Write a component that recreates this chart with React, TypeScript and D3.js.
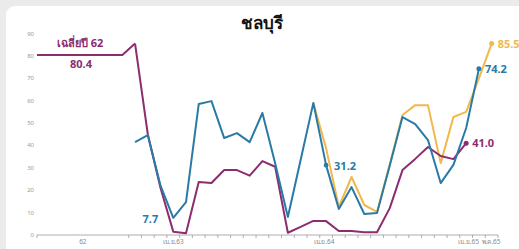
import * as React from 'react';
import * as d3 from 'd3';

// month slots: index 0 = เม.ย.63, -3 = ม.ค.63, 25 = พ.ค.65
const firstIndex = -3;
const avg62 = 80.4;
const avgEndIndex = -4;

// series values from ม.ค.63 onwards
const purpleValues = [
  85.5, 45, 21, 1.5, 0.8, 23.7, 23.2, 29, 29, 26.5, 33, 30.5, 1, 3.6, 6.3, 6.2,
  1.8, 1.8, 1.2, 1.2, 12, 29, 34, 39.3, 35.3, 33.9, 41.0,
];
const blueValues = [
  41.5, 44.6, 22, 7.7, 14.7, 58.5, 59.8, 43.3, 45.5, 41.5, 54.5, 32, 8, 33.5, 59,
  31.2, 11.6, 21.4, 9.4, 9.8, 31, 52.7, 49.5, 42.4, 23.2, 31.3, 47.8, 74.2,
];
// orange starts at มี.ค.64 (index 11)
const orangeStart = 11;
const orangeValues = [59, 38.8, 12.5, 25.9, 13.4, 10.3, 31.5, 53.6, 58, 58, 32.1, 52.7, 55, 70, 85.5];

const yTicks = [0, 10, 20, 30, 40, 50, 60, 70, 80, 90];
const xLabels: { i: number; text: string; anchor: string; dx: number }[] = [
  { i: -7.1, text: '62', anchor: 'middle', dx: 0 },
  { i: 0, text: 'เม.ย.63', anchor: 'middle', dx: 0 },
  { i: 12, text: 'เม.ย.64', anchor: 'middle', dx: -2 },
  { i: 24, text: 'เม.ย.65', anchor: 'end', dx: 0 },
  { i: 25, text: 'พ.ค.65', anchor: 'start', dx: -10 },
];

const PURPLE = '#8c2d6f';
const BLUE = '#2a7aa6';
const ORANGE = '#f2b84b';
const FONT = '"Noto Sans", "DejaVu Sans", sans-serif';

type Pt = { i: number; v: number };
const toPts = (vals: number[], start: number): Pt[] => vals.map((v, k) => ({ i: start + k, v }));

const App: React.FC = () => {
  const width = 519;
  const height = 249;

  const x = d3.scaleLinear().domain([-10.7, 25.5]).range([37, 498]);
  const y = d3.scaleLinear().domain([0, 90]).range([235, 33.5]);
  const line = d3.line<Pt>().x(d => x(d.i)).y(d => y(d.v));

  const purple = toPts(purpleValues, firstIndex);
  const blue = toPts(blueValues, firstIndex);
  const orange = toPts(orangeValues, orangeStart);
  const avgLine: Pt[] = [
    { i: x.domain()[0], v: avg62 },
    { i: avgEndIndex, v: avg62 },
    purple[0],
  ];

  const monthTicks = d3.range(avgEndIndex + 0.5, 26, 1);
  const lastP = purple[purple.length - 1];
  const lastB = blue[blue.length - 1];
  const lastO = orange[orange.length - 1];
  const mid = blue[15];

  return (
    <svg width={width} height={height} style={{ position: 'absolute', left: 0, top: 0 }} fontFamily={FONT}>
      <rect x={0} y={0} width={width} height={height} fill="#ebebeb" />
      <rect x={6} y={6} width={width + 20} height={height + 20} rx={9} fill="#ffffff" />

      <text x={262} y={29} textAnchor="middle" fontSize={17} fontWeight="bold" fill="#111">
        ชลบุรี
      </text>

      {yTicks.map(t => (
        <text key={t} x={34} y={y(t) + 2} textAnchor="end" fontSize={6} fill="#999">
          {t}
        </text>
      ))}

      <line x1={x.range()[0]} x2={x.range()[1]} y1={y(0)} y2={y(0)} stroke="#9a9a9a" strokeWidth={0.8} />
      {[x.domain()[0], ...monthTicks].map(t => (
        <line key={t} x1={x(t)} x2={x(t)} y1={y(0)} y2={y(0) + 3} stroke="#9a9a9a" strokeWidth={0.8} />
      ))}
      {xLabels.map(l => (
        <text key={l.text} x={x(l.i) + l.dx} y={244} textAnchor={l.anchor} fontSize={6.5} fill="#8a8a8a">
          {l.text}
        </text>
      ))}

      <path d={line(orange) || undefined} fill="none" stroke={ORANGE} strokeWidth={2} strokeLinejoin="round" />
      <path d={line(avgLine) || undefined} fill="none" stroke={PURPLE} strokeWidth={2} strokeLinejoin="round" />
      <path d={line(purple) || undefined} fill="none" stroke={PURPLE} strokeWidth={2} strokeLinejoin="round" />
      <path d={line(blue) || undefined} fill="none" stroke={BLUE} strokeWidth={2} strokeLinejoin="round" />

      <circle cx={x(lastO.i)} cy={y(lastO.v)} r={2.5} fill={ORANGE} />
      <circle cx={x(lastP.i)} cy={y(lastP.v)} r={2.5} fill={PURPLE} />
      <circle cx={x(lastB.i)} cy={y(lastB.v)} r={2.5} fill={BLUE} />
      <circle cx={x(mid.i)} cy={y(mid.v)} r={2.3} fill={BLUE} />

      <g fontWeight="bold" fontSize={11}>
        <text x={80} y={47} textAnchor="middle" fill={PURPLE}>เฉลี่ยปี 62</text>
        <text x={81} y={y(avg62) + 13} textAnchor="middle" fill={PURPLE}>{avg62.toFixed(1)}</text>
        <text x={x(0) - 15} y={y(blue[3].v) + 5} textAnchor="end" fill={BLUE}>{blue[3].v.toFixed(1)}</text>
        <text x={x(mid.i) + 8} y={y(mid.v) + 5} fill={BLUE}>{mid.v.toFixed(1)}</text>
        <text x={x(lastP.i) + 6} y={y(lastP.v) + 4} fill={PURPLE}>{lastP.v.toFixed(1)}</text>
        <text x={x(lastB.i) + 6} y={y(lastB.v) + 4} fill={BLUE}>{lastB.v.toFixed(1)}</text>
        <text x={x(lastO.i) + 6} y={y(lastO.v) + 4} fill={ORANGE}>{lastO.v.toFixed(1)}</text>
      </g>
    </svg>
  );
};

export default App;
